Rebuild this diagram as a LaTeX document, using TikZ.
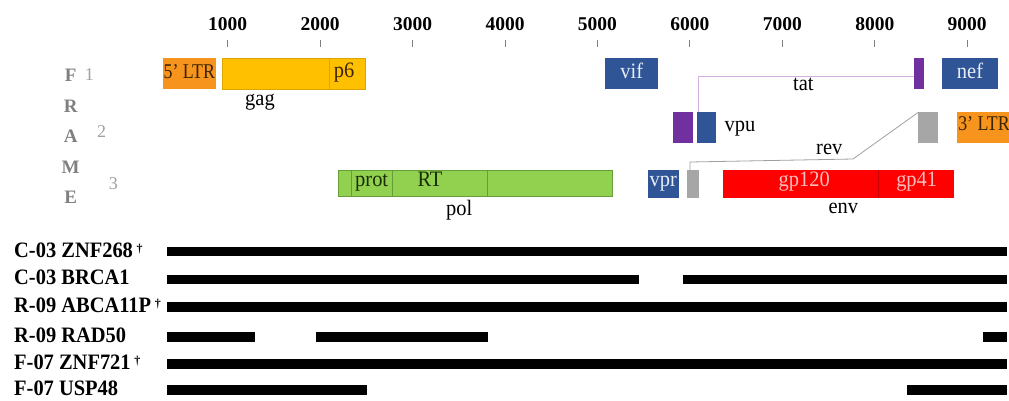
\documentclass[tikz,border=0pt]{standalone}
\usepackage{fontspec}
\setmainfont{Liberation Serif}
\usetikzlibrary{fit}

\definecolor{ltrc}{RGB}{246,148,30}
\definecolor{gagc}{RGB}{255,192,0}
\definecolor{gagl}{RGB}{222,165,0}
\definecolor{polc}{RGB}{146,208,80}
\definecolor{poll}{RGB}{100,160,55}
\definecolor{accc}{RGB}{47,85,151}
\definecolor{tatc}{RGB}{112,48,160}
\definecolor{revc}{RGB}{166,166,166}
\definecolor{envc}{RGB}{255,0,0}
\definecolor{envl}{RGB}{200,0,0}
\definecolor{tatl}{RGB}{215,175,225}
\definecolor{revl}{RGB}{160,160,160}
\definecolor{framec}{RGB}{128,128,128}
\definecolor{numc}{RGB}{160,160,160}
\definecolor{darktxt}{RGB}{60,35,0}
\definecolor{greentxt}{RGB}{25,45,5}
\definecolor{pinktxt}{RGB}{250,190,190}
\definecolor{lighttxt}{RGB}{232,236,245}

% squeezed text
\newcommand\sqz[2][0.93]{\scalebox{#1}[1]{#2}}
\newcommand\dg{\,\raisebox{5pt}{\fontsize{12}{12}\selectfont †}}

\begin{document}
\begin{tikzpicture}[x=1pt,y=-1pt,
  gene/.style={inner sep=0pt, outer sep=0pt},
  glbl/.style={font=\fontsize{22}{22}\selectfont, inner sep=0pt, anchor=base},
  ltrlbl/.style={font=\fontsize{21}{21}\selectfont, inner sep=0pt, anchor=base, text=darktxt},
  ticklbl/.style={font=\fontsize{19.5}{19.5}\selectfont\bfseries, inner sep=0pt, anchor=base},
  tick/.style={draw=framec, line width=0.8pt},
  framelbl/.style={font=\fontsize{19}{19}\selectfont\bfseries, text=framec, inner sep=0pt, anchor=base},
  numlbl/.style={font=\fontsize{18}{18}\selectfont, text=numc, inner sep=0pt, anchor=base},
  rowlbl/.style={font=\fontsize{22}{22}\selectfont\bfseries, inner sep=0pt, anchor=base west},
  divider/.style={line width=0.6pt},
  link/.style={line width=0.8pt}]
\useasboundingbox (0,0) rectangle (1009,400);

% position scale
\foreach \n in {1,...,9} {
  \pgfmathsetmacro\tx{135.3+\n*92.43}
  \draw[tick] (\tx,39.7) -- (\tx,47);
  \node[ticklbl] (t\n) at (\tx,30.7) {\n000};
}

% reading frame labels
\node[framelbl] (fF) at (70.7,81) {F};
\node[framelbl] (fR) at (70.7,112.3) {R};
\node[framelbl] (fA) at (70.7,142.3) {A};
\node[framelbl] (fM) at (70.7,173.3) {M};
\node[framelbl] (fE) at (70.7,203.3) {E};
\node[numlbl] (n1) at (89.3,80) {1};
\node[numlbl] (n2) at (101.7,137.3) {2};
\node[numlbl] (n3) at (113.3,189) {3};

% frame 1
\node[gene, fill=ltrc, fit={(163.3,58) (216,89.3)}] (ltr5) {};
\node[gene, fill=gagc, draw=gagl, line width=0.5pt, fit={(222.7,58) (365.7,89.3)}] (gag) {};
\draw[divider, gagl] (329,58) -- (329,89.3);
\node[gene, fill=accc, fit={(605,58) (658,89.3)}] (vif) {};
\node[gene, fill=tatc, fit={(914.3,58) (924,89.3)}] (tat2) {};
\node[gene, fill=accc, fit={(941.7,58) (998.3,89.3)}] (nef) {};

% frame 2
\node[gene, fill=tatc, fit={(673.3,112.3) (692.7,143.3)}] (tat1) {};
\node[gene, fill=accc, fit={(697.3,112.3) (716,143.3)}] (vpu) {};
\node[gene, fill=revc, fit={(918.3,112.3) (937.7,143.3)}] (rev2) {};
\node[gene, fill=ltrc, fit={(956.7,112.3) (1020,143.3)}] (ltr3) {};

% frame 3
\node[gene, fill=polc, draw=poll, line width=0.5pt, fit={(338.3,170) (612.3,196.7)}] (pol) {};
\draw[divider, poll] (351.7,170) -- (351.7,196.7)
                     (392.3,170) -- (392.3,196.7)
                     (487.3,170) -- (487.3,196.7);
\node[gene, fill=accc, fit={(647.7,170) (679,197.7)}] (vpr) {};
\node[gene, fill=revc, fit={(686.7,170) (699.3,197.7)}] (rev1) {};
\node[gene, fill=envc, fit={(723.3,170) (954,197.7)}] (env) {};
\draw[divider, envl] (878.3,170) -- (878.3,197.7);

% spliced exons
\draw[link, tatl] ([yshift=-2.5pt]tat2.west) -| ([xshift=1pt]vpu.north west);
\coordinate (revbend) at (853,159);
\coordinate (revfoot) at (690,162);
\draw[link, revl] (rev2.north west) -- (revbend) -- (revfoot) -- (revfoot |- rev1.north);

% gene labels
\node[ltrlbl] (l5ltr) at (189.3,78.3) {\sqz[0.85]{5’ LTR}};
\node[ltrlbl] (l3ltr) at (984,130.7) {\sqz[0.85]{3’ LTR}};
\node[glbl, text=darktxt] (lp6) at (344,77) {\sqz{p6}};
\node[glbl] (lgag) at (260,105) {\sqz{gag}};
\node[glbl, text=lighttxt] (lvif) at (631.7,78.3) {\sqz{vif}};
\node[glbl, text=lighttxt] (lnef) at (970,78) {\sqz{nef}};
\node[glbl] (ltat) at (803.3,90.7) {\sqz{tat}};
\node[glbl] (lvpu) at (740,131.7) {\sqz{vpu}};
\node[glbl] (lrev) at (829.3,154) {\sqz{rev}};
\node[glbl, text=greentxt] (lprot) at (371.7,186.7) {\sqz{prot}};
\node[glbl, text=greentxt] (lrt) at (430,186.7) {\sqz{RT}};
\node[glbl] (lpol) at (459.3,215) {\sqz{pol}};
\node[glbl, text=lighttxt] (lvpr) at (663.3,186.7) {\sqz{vpr}};
\node[glbl, text=pinktxt] (lgp120) at (804.3,186.7) {\sqz{gp120}};
\node[glbl, text=pinktxt] (lgp41) at (916.7,186.7) {\sqz{gp41}};
\node[glbl] (lenv) at (843.3,213.3) {\sqz{env}};

% integration-site rows
\node[rowlbl] (r1) at (14,257) {\sqz{C-03 ZNF268}\dg};
\node[rowlbl] (r2) at (14,284.9) {\sqz{C-03 BRCA1}};
\node[rowlbl] (r3) at (14,312.4) {\sqz{R-09 ABCA11P}\dg};
\node[rowlbl] (r4) at (14,342.4) {\sqz{R-09 RAD50}};
\node[rowlbl] (r5) at (14,369.4) {\sqz{F-07 ZNF721}\dg};
\node[rowlbl] (r6) at (14,395.7) {\sqz{F-07 USP48}};

\fill (167.3,246.6) rectangle (1006.7,256.1);
\fill (167.3,274.5) rectangle (639.3,284);
\fill (683.3,274.5) rectangle (1006.7,284);
\fill (167.3,302) rectangle (1006.7,311.5);
\fill (167.3,332) rectangle (255,341.5);
\fill (316,332) rectangle (488.3,341.5);
\fill (982.7,332) rectangle (1006.7,341.5);
\fill (167.3,359) rectangle (1006.7,368.5);
\fill (167.3,385.3) rectangle (367.3,394.8);
\fill (907.3,385.3) rectangle (1006.7,394.8);
\end{tikzpicture}
\end{document}
